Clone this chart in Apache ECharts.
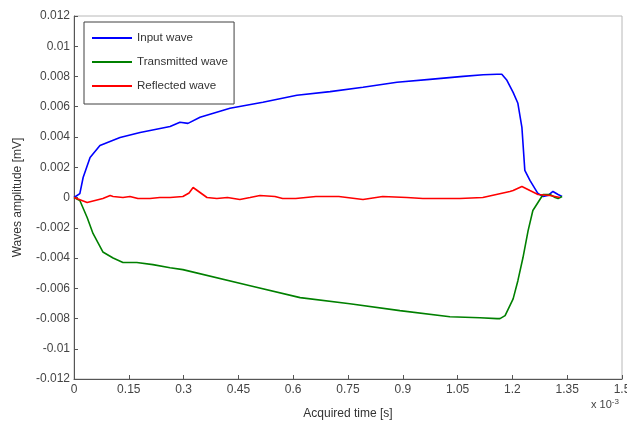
<!DOCTYPE html>
<html>
<head>
    <meta charset="utf-8">
    <script src="https://cdn.jsdelivr.net/npm/echarts@6/dist/echarts.min.js"></script>
    <style>
    html, body { margin: 0; padding: 0; background: #fff; }
    #main { width: 627px; height: 432px; }
    </style>
</head>
<body>
    <div id="main"></div>
    <script type="text/javascript">
        // time in units of 1e-3 s, amplitude in mV
        var inputT = [0, 0.016, 0.025, 0.044, 0.071, 0.126, 0.181, 0.263, 0.290, 0.312, 0.345, 0.427, 0.517, 0.610, 0.701, 0.791, 0.884, 0.974, 1.065, 1.120, 1.158, 1.171, 1.185, 1.202, 1.215, 1.226, 1.234, 1.248, 1.270, 1.284, 1.297, 1.311, 1.325, 1.336];
        var inputV = [0, 0.00026, 0.00132, 0.00265, 0.00344, 0.00397, 0.0043, 0.0047, 0.00497, 0.0049, 0.0053, 0.0059, 0.0063, 0.00676, 0.0070, 0.00729, 0.00762, 0.00781, 0.00801, 0.00812, 0.00815, 0.00815, 0.00775, 0.00695, 0.00623, 0.00464, 0.00179, 0.00113, 0.00026, 0.00007, 0.00013, 0.0004, 0.0002, 0.00007];

        var transT = [0, 0.016, 0.036, 0.052, 0.079, 0.107, 0.134, 0.172, 0.216, 0.263, 0.298, 0.482, 0.619, 0.755, 0.892, 1.029, 1.111, 1.158, 1.166, 1.180, 1.202, 1.215, 1.229, 1.243, 1.256, 1.270, 1.284, 1.303, 1.317, 1.325, 1.336];
        var transV = [0, -0.0002, -0.00132, -0.00238, -0.0036, -0.0040, -0.0043, -0.0043, -0.00444, -0.00464, -0.00477, -0.00583, -0.00662, -0.00702, -0.00748, -0.00788, -0.00795, -0.00801, -0.00801, -0.00781, -0.0067, -0.0055, -0.00397, -0.00219, -0.00086, -0.00033, 0.0002, 0.0002, 0, -0.00007, 0.00007];

        var reflT = [0, 0.036, 0.079, 0.099, 0.107, 0.134, 0.153, 0.175, 0.208, 0.235, 0.263, 0.298, 0.315, 0.326, 0.345, 0.364, 0.391, 0.420, 0.454, 0.482, 0.509, 0.550, 0.571, 0.607, 0.662, 0.725, 0.791, 0.845, 0.911, 0.955, 1.056, 1.119, 1.193, 1.202, 1.226, 1.248, 1.270, 1.303, 1.330];
        var reflV = [0, -0.00033, -0.00007, 0.00013, 0.00007, 0, 0.00007, -0.00007, -0.00007, 0, 0, 0.00007, 0.0003, 0.00066, 0.00033, 0, -0.00007, 0, -0.00013, 0, 0.00013, 0.00007, -0.00007, -0.00007, 0.00007, 0.00007, -0.00013, 0.00007, 0, -0.00007, -0.00007, 0, 0.0004, 0.00046, 0.00073, 0.00046, 0.0002, 0.00013, 0];

        var xTicks = [0, 0.15, 0.3, 0.45, 0.6, 0.75, 0.9, 1.05, 1.2, 1.35, 1.5];
        var yTicks = [-0.012, -0.01, -0.008, -0.006, -0.004, -0.002, 0, 0.002, 0.004, 0.006, 0.008, 0.01, 0.012];

        function pairs(t, v) {
            var out = [];
            for (var i = 0; i < t.length; i++) out.push([t[i], v[i]]);
            return out;
        }

        var font = 'Liberation Sans, Arial, sans-serif';
        var myChart = echarts.init(document.getElementById('main'));

        var option = {
            animation: false,
            textStyle: { fontFamily: font },
            grid: {
                left: 74, right: 5, top: 16, bottom: 53,
                outerBoundsMode: 'none',
                containLabel: false,
                show: true, borderColor: '#b8b8b8', borderWidth: 1
            },
            legend: {
                orient: 'vertical',
                left: 84, top: 22,
                data: ['Input wave', 'Transmitted wave', 'Reflected wave'],
                icon: 'rect',
                itemWidth: 40, itemHeight: 2,
                itemGap: 10,
                padding: [9, 6, 11, 8],
                backgroundColor: '#fff',
                borderColor: '#404040', borderWidth: 1,
                textStyle: { fontSize: 11.6, color: '#333', fontFamily: font, lineHeight: 14 }
            },
            graphic: [{
                type: 'text',
                left: 591, top: 398,
                style: {
                    text: '{b|x 10}{s|-3}',
                    rich: {
                        b: { fontSize: 11, fill: '#444', fontFamily: font, padding: [6, 0, 0, 0] },
                        s: { fontSize: 8, fill: '#444', fontFamily: font }
                    }
                }
            }],
            xAxis: {
                type: 'value',
                min: 0, max: 1.5, interval: 0.15,
                name: 'Acquired time [s]',
                nameLocation: 'middle', nameGap: 29,
                nameTextStyle: { fontSize: 12, color: '#333' },
                axisLine: { onZero: false, lineStyle: { color: '#555' } },
                axisTick: { inside: true, length: 4, lineStyle: { color: '#555' } },
                axisLabel: {
                    fontSize: 12, color: '#444', margin: 5,
                    formatter: function (v) { return String(parseFloat(v.toFixed(2))); }
                },
                splitLine: { show: false }
            },
            yAxis: {
                type: 'value',
                min: -0.012, max: 0.012, interval: 0.002,
                name: 'Waves amplitude [mV]',
                nameLocation: 'middle', nameGap: 50, nameRotate: 90,
                nameTextStyle: { fontSize: 12, color: '#333' },
                axisLine: { onZero: false, lineStyle: { color: '#555' } },
                axisTick: { inside: true, length: 4, lineStyle: { color: '#555' } },
                axisLabel: {
                    fontSize: 12, color: '#444', margin: 4,
                    formatter: function (v) { return String(parseFloat(v.toFixed(3))); }
                },
                splitLine: { show: false }
            },
            series: [
                {
                    name: 'Input wave', type: 'line', showSymbol: false, symbol: 'none',
                    color: '#0000ff', lineStyle: { width: 1.6, color: '#0000ff' },
                    data: pairs(inputT, inputV)
                },
                {
                    name: 'Transmitted wave', type: 'line', showSymbol: false, symbol: 'none',
                    color: '#008000', lineStyle: { width: 1.6, color: '#008000' },
                    data: pairs(transT, transV)
                },
                {
                    name: 'Reflected wave', type: 'line', showSymbol: false, symbol: 'none',
                    color: '#ff0000', lineStyle: { width: 1.6, color: '#ff0000' },
                    data: pairs(reflT, reflV)
                }
            ]
        };

        myChart.setOption(option);
    </script>
</body>
</html>
